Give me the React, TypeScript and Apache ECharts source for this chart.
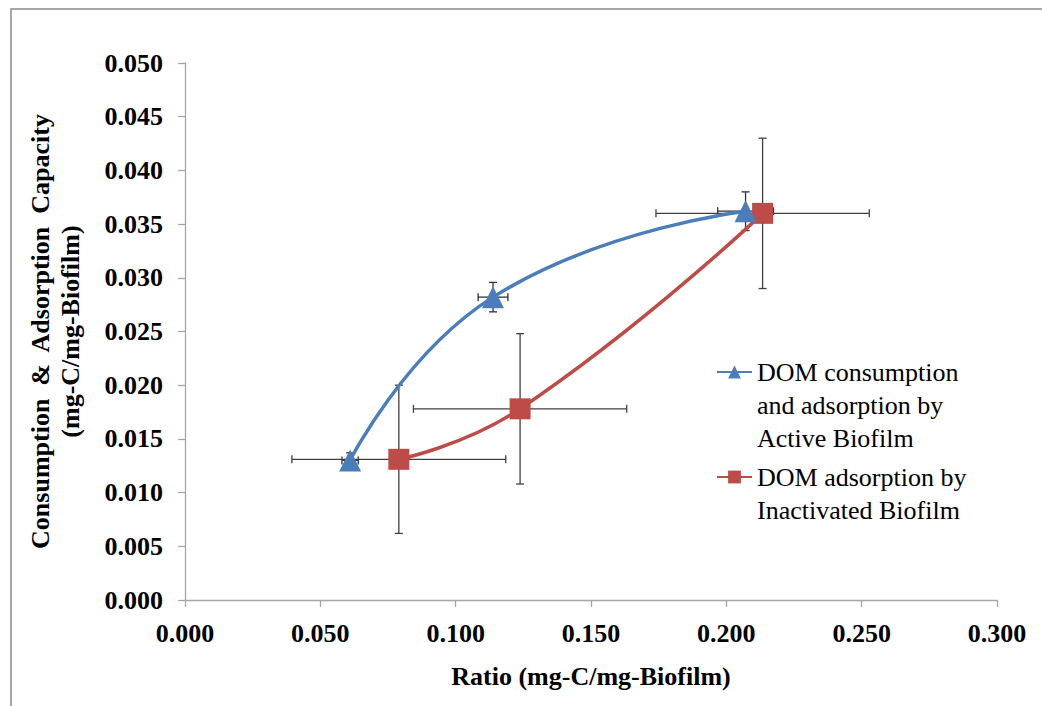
import React, { useEffect, useRef } from "react";
import * as echarts from "echarts";

const activeName = "DOM consumption\nand adsorption by\nActive Biofilm";
const inactName = "DOM adsorption by\nInactivated Biofilm";

const activeX = [0.061, 0.1138, 0.2071];
const activeY = [0.013, 0.0282, 0.0362];
const activeXErr = [0.003, 0.0055, 0.0103];
const activeYErr = [0.0007, 0.00137, 0.0018];

const inactX = [0.079, 0.1238, 0.2134];
const inactY = [0.0131, 0.0178, 0.036];
const inactXErr = [0.0395, 0.0394, 0.0394];
const inactYErr = [0.0069, 0.007, 0.007];

const xMin = 0, xMax = 0.3, xStep = 0.05;
const yMin = 0, yMax = 0.05, yStep = 0.005;

const FONT = "Liberation Serif";
const BLUE = "#4a7ebb";
const RED = "#be4b48";

function errSeries(id: string, xs: number[], ys: number[], xe: number[], ye: number[], color: string) {
  return {
    type: "custom",
    id,
    silent: true,
    z: 1,
    renderItem: (params: any, api: any) => {
      const x = api.value(0), y = api.value(1), dx = api.value(2), dy = api.value(3);
      const l = api.coord([x - dx, y]);
      const r = api.coord([x + dx, y]);
      const t = api.coord([x, y + dy]);
      const b = api.coord([x, y - dy]);
      const cap = 4;
      const style = { stroke: color, lineWidth: 1.3 };
      return {
        type: "group",
        children: [
          { type: "line", shape: { x1: l[0], y1: l[1], x2: r[0], y2: r[1] }, style },
          { type: "line", shape: { x1: l[0], y1: l[1] - cap, x2: l[0], y2: l[1] + cap }, style },
          { type: "line", shape: { x1: r[0], y1: r[1] - cap, x2: r[0], y2: r[1] + cap }, style },
          { type: "line", shape: { x1: t[0], y1: t[1], x2: b[0], y2: b[1] }, style },
          { type: "line", shape: { x1: t[0] - cap, y1: t[1], x2: t[0] + cap, y2: t[1] }, style },
          { type: "line", shape: { x1: b[0] - cap, y1: b[1], x2: b[0] + cap, y2: b[1] }, style },
        ],
      };
    },
    encode: { x: 0, y: 1 },
    data: xs.map((x, i) => [x, ys[i], xe[i], ye[i]]),
  };
}

export default function App() {
  const ref = useRef<HTMLDivElement>(null);
  useEffect(() => {
    if (!ref.current) return;
    const chart = echarts.init(ref.current, null, { renderer: "svg" });
    const legendCommon = {
      orient: "vertical",
      left: 716,
      padding: 0,
      itemWidth: 35,
      itemHeight: 16,
      textStyle: { fontFamily: FONT, fontSize: 26, color: "#000", lineHeight: 33 },
    };
    chart.setOption({
      animation: false,
      backgroundColor: "#fff",
      textStyle: { fontFamily: FONT },
      graphic: [
        {
          type: "rect",
          silent: true,
          shape: { x: 11, y: 9, width: 1040, height: 710 },
          style: { fill: "none", stroke: "#8c8c8c", lineWidth: 1.5 },
        },
      ],
      legend: [
        { ...legendCommon, top: 289.5, data: [activeName], formatter: (n: string) => "\n\n" + n },
        { ...legendCommon, top: 427.5, data: [inactName], formatter: (n: string) => "\n" + n },
      ],
      grid: { left: 185, right: 45, top: 63, bottom: 106, containLabel: false },
      xAxis: {
        type: "value",
        min: xMin,
        max: xMax,
        interval: xStep,
        name: "Ratio (mg-C/mg-Biofilm)",
        nameLocation: "middle",
        nameGap: 61,
        nameTextStyle: { fontFamily: FONT, fontSize: 26, fontWeight: "bold", color: "#000", lineHeight: 30 },
        axisLine: { show: true, lineStyle: { color: "#a6a6a6", width: 1.3 } },
        axisTick: { show: true, inside: false, length: 7, lineStyle: { color: "#a6a6a6", width: 1.3 } },
        axisLabel: {
          margin: 20,
          fontFamily: FONT,
          fontSize: 26,
          fontWeight: "bold",
          color: "#000",
          formatter: (v: number) => v.toFixed(3),
        },
        splitLine: { show: false },
      },
      yAxis: {
        type: "value",
        min: yMin,
        max: yMax,
        interval: yStep,
        name: "Consumption  &  Adsorption  Capacity\n(mg-C/mg-Biofilm)",
        nameLocation: "middle",
        nameRotate: 90,
        nameGap: 100,
        nameTextStyle: { fontFamily: FONT, fontSize: 26, fontWeight: "bold", color: "#000", lineHeight: 30 },
        axisLine: { show: true, lineStyle: { color: "#a6a6a6", width: 1.3 } },
        axisTick: { show: true, inside: false, length: 7, lineStyle: { color: "#a6a6a6", width: 1.3 } },
        axisLabel: {
          margin: 22,
          fontFamily: FONT,
          fontSize: 26,
          fontWeight: "bold",
          color: "#000",
          formatter: (v: number) => v.toFixed(3),
        },
        splitLine: { show: false },
      },
      series: [
        errSeries("errActive", activeX, activeY, activeXErr, activeYErr, "#303030"),
        errSeries("errInact", inactX, inactY, inactXErr, inactYErr, "#404040"),
        {
          type: "line",
          name: activeName,
          data: activeX.map((x, i) => [x, activeY[i]]),
          smooth: 0.5,
          symbol: "triangle",
          symbolSize: 22,
          z: 3,
          itemStyle: { color: BLUE },
          lineStyle: { color: BLUE, width: 3.5 },
        },
        {
          type: "line",
          name: inactName,
          data: inactX.map((x, i) => [x, inactY[i]]),
          smooth: 0.5,
          symbol: "rect",
          symbolSize: 21,
          z: 2,
          itemStyle: { color: RED },
          lineStyle: { color: RED, width: 3.5 },
        },
      ],
    });
    return () => chart.dispose();
  }, []);
  return (
    <div
      ref={ref}
      style={{ position: "fixed", left: 0, top: 0, width: 1042, height: 706 }}
    />
  );
}
